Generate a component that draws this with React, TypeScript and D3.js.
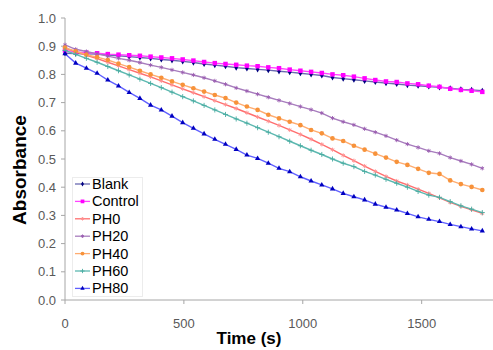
import React from "react";
import * as d3 from "d3";

const times = [0, 45, 90, 135, 180, 225, 270, 315, 360, 405, 450, 495, 540, 585, 630, 675, 720, 765, 810, 855, 900, 945, 990, 1035, 1080, 1125, 1170, 1215, 1260, 1305, 1350, 1395, 1440, 1485, 1530, 1575, 1620, 1665, 1710, 1755];

const blank = [0.875, 0.874, 0.873, 0.872, 0.869, 0.866, 0.863, 0.860, 0.857, 0.853, 0.850, 0.846, 0.842, 0.837, 0.833, 0.829, 0.824, 0.821, 0.818, 0.815, 0.811, 0.808, 0.804, 0.800, 0.796, 0.789, 0.785, 0.781, 0.777, 0.773, 0.769, 0.766, 0.762, 0.760, 0.757, 0.754, 0.751, 0.747, 0.745, 0.742];
const control = [0.885, 0.880, 0.877, 0.875, 0.872, 0.870, 0.868, 0.866, 0.863, 0.860, 0.857, 0.853, 0.849, 0.844, 0.840, 0.837, 0.834, 0.831, 0.829, 0.825, 0.822, 0.817, 0.813, 0.809, 0.805, 0.800, 0.797, 0.792, 0.786, 0.780, 0.775, 0.773, 0.768, 0.765, 0.760, 0.756, 0.749, 0.745, 0.742, 0.738];
const ph0 = [0.893, 0.880, 0.868, 0.856, 0.843, 0.830, 0.817, 0.804, 0.791, 0.777, 0.763, 0.749, 0.735, 0.721, 0.707, 0.693, 0.679, 0.664, 0.649, 0.634, 0.619, 0.603, 0.587, 0.570, 0.552, 0.533, 0.513, 0.494, 0.475, 0.456, 0.438, 0.422, 0.408, 0.393, 0.378, 0.362, 0.346, 0.332, 0.320, 0.307];
const ph20 = [0.905, 0.889, 0.881, 0.873, 0.865, 0.857, 0.850, 0.842, 0.833, 0.825, 0.816, 0.807, 0.798, 0.788, 0.777, 0.765, 0.752, 0.741, 0.730, 0.719, 0.708, 0.697, 0.686, 0.675, 0.663, 0.645, 0.632, 0.621, 0.607, 0.595, 0.582, 0.567, 0.553, 0.541, 0.529, 0.520, 0.505, 0.493, 0.481, 0.467];
const ph40 = [0.895, 0.882, 0.870, 0.861, 0.851, 0.838, 0.826, 0.813, 0.800, 0.788, 0.775, 0.763, 0.751, 0.739, 0.727, 0.716, 0.700, 0.686, 0.674, 0.657, 0.644, 0.632, 0.620, 0.603, 0.591, 0.573, 0.564, 0.547, 0.533, 0.519, 0.505, 0.490, 0.479, 0.465, 0.451, 0.447, 0.424, 0.411, 0.401, 0.390];
const ph60 = [0.885, 0.871, 0.857, 0.843, 0.828, 0.813, 0.798, 0.783, 0.768, 0.753, 0.737, 0.721, 0.706, 0.690, 0.674, 0.658, 0.642, 0.627, 0.611, 0.595, 0.579, 0.563, 0.547, 0.531, 0.516, 0.500, 0.485, 0.473, 0.456, 0.443, 0.428, 0.414, 0.400, 0.385, 0.372, 0.364, 0.349, 0.334, 0.322, 0.310];
const ph80 = [0.873, 0.840, 0.822, 0.804, 0.780, 0.759, 0.736, 0.715, 0.691, 0.674, 0.652, 0.629, 0.609, 0.589, 0.570, 0.552, 0.534, 0.514, 0.502, 0.485, 0.467, 0.455, 0.437, 0.422, 0.408, 0.394, 0.378, 0.366, 0.355, 0.340, 0.329, 0.319, 0.307, 0.295, 0.286, 0.278, 0.268, 0.260, 0.252, 0.245];

const seriesNames = ["Blank", "Control", "PH0", "PH20", "PH40", "PH60", "PH80"];
const seriesValues = [blank, control, ph0, ph20, ph40, ph60, ph80];
const lineColors = ["#6a6ab0", "#ff44ff", "#ff6e6e", "#a77cbd", "#ffac70", "#5cb8b0", "#6060ff"];
const markerColors = ["#000080", "#ff00ff", "#ff9090", "#9a5cb0", "#f7923a", "#48aca0", "#0000c0"];
const markerTypes = ["diamond", "square", "asterisk", "asterisk", "circle", "plus", "triangle"];

const yTicks = [0, 0.1, 0.2, 0.3, 0.4, 0.5, 0.6, 0.7, 0.8, 0.9, 1.0];
const xTicks = [0, 500, 1000, 1500];

const W = 493, H = 350;
const x = d3.scaleLinear().domain([0, 1800]).range([65, 493]);
const y = d3.scaleLinear().domain([0, 1]).range([300, 18]);

function Marker({ type, cx, cy, color, k = 1 }: { type: string; cx: number; cy: number; color: string; k?: number }) {
  const t = `translate(${cx},${cy})`;
  if (type === "diamond") return <path transform={t} d={d3.symbol(d3.symbolDiamond, 11 * k)()!} fill={color} />;
  if (type === "square") return <path transform={t} d={d3.symbol(d3.symbolSquare, 20 * k)()!} fill={color} />;
  if (type === "circle") return <path transform={t} d={d3.symbol(d3.symbolCircle, 17 * k)()!} fill={color} />;
  if (type === "triangle") return <path transform={t} d={d3.symbol(d3.symbolTriangle, 12 * k)()!} fill={color} />;
  if (type === "plus") return <path transform={t} d={d3.symbol(d3.symbolPlus, 10 * k)()!} fill="none" stroke={color} strokeWidth={0.9} />;
  return <path transform={t} d={d3.symbol(d3.symbolAsterisk, 12 * k)()!} fill="none" stroke={color} strokeWidth={0.9} />;
}

export default function App() {
  const line = d3.line<number>().x((_, i) => x(times[i])).y((d) => y(d));
  const font = "Liberation Sans, Arial, sans-serif";
  return (
    <svg width={W} height={H} style={{ position: "absolute", left: 0, top: 0, background: "#fff" }} fontFamily={font}>
      <rect width={W} height={H} fill="#fff" />
      <line x1={x(0)} x2={x(0)} y1={y(1)} y2={y(0)} stroke="#a6a6a6" strokeWidth={1} />
      <line x1={x(0)} x2={x(1800)} y1={y(0)} y2={y(0)} stroke="#a6a6a6" strokeWidth={1} />
      {yTicks.map((v) => (
        <g key={"y" + v}>
          <line x1={x(0) - 4} x2={x(0)} y1={y(v)} y2={y(v)} stroke="#a6a6a6" />
          <text x={56} y={y(v) + 4.5} textAnchor="end" fontSize={13} fill="#595959">{v.toFixed(1)}</text>
        </g>
      ))}
      {xTicks.map((v) => (
        <g key={"x" + v}>
          <line x1={x(v)} x2={x(v)} y1={y(0)} y2={y(0) + 4} stroke="#a6a6a6" />
          <text x={x(v)} y={327.5} textAnchor="middle" fontSize={13} fill="#595959">{v}</text>
        </g>
      ))}
      {seriesValues.map((vals, s) => (
        <g key={seriesNames[s]}>
          <path d={line(vals)!} fill="none" stroke={lineColors[s]} strokeWidth={1.4} />
          {vals.map((v, i) => (
            <Marker key={i} type={markerTypes[s]} cx={x(times[i])} cy={y(v)} color={markerColors[s]} />
          ))}
        </g>
      ))}
      <text x={249} y={344} textAnchor="middle" fontSize={17} fontWeight="bold" fill="#000">Time (s)</text>
      <text transform="translate(26,170) rotate(-90)" textAnchor="middle" fontSize={19} fontWeight="bold" fill="#000">Absorbance</text>
      <rect x={72.5} y={177.5} width={70} height={119} fill="#fff" stroke="#ececec" />
      {seriesNames.map((n, s) => {
        const cy = 184 + s * 17.4;
        return (
          <g key={"lg" + n}>
            <line x1={75} x2={90} y1={cy} y2={cy} stroke={lineColors[s]} strokeWidth={1.3} />
            <Marker type={markerTypes[s]} cx={82.5} cy={cy} color={markerColors[s]} k={0.7} />
            <text x={92} y={cy + 5} fontSize={14.5} fill="#000">{n}</text>
          </g>
        );
      })}
    </svg>
  );
}
